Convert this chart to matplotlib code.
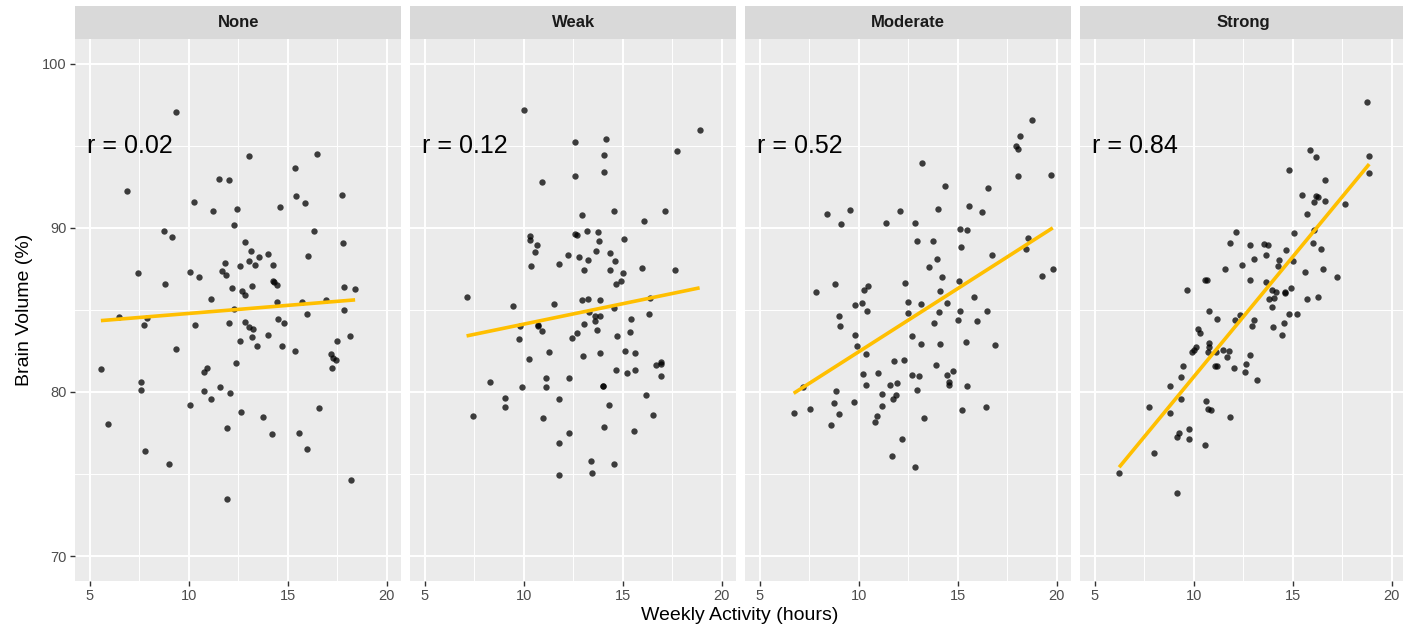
import numpy as np
import matplotlib
matplotlib.use("Agg")
import matplotlib.pyplot as plt
from matplotlib.ticker import MultipleLocator

plt.rcParams['font.family'] = ['Liberation Sans', 'DejaVu Sans']

# facettes : niveau de corrélation
panels = ["None", "Weak", "Moderate", "Strong"]
r_labels = ["r = 0.02", "r = 0.12", "r = 0.52", "r = 0.84"]

none_x = [9.36, 6.86, 13.07, 16.47, 15.35, 11.55, 12.04, 10.29, 11.25, 12.42,
          14.59, 15.42, 15.88, 17.74, 12.31, 8.77, 9.14, 16.35, 17.82, 12.84,
          13.14, 13.56, 14.00, 16.05, 11.82, 13.04, 13.33, 12.60, 14.27, 7.42,
          10.05, 11.66, 11.88, 10.51, 8.78, 14.26, 14.31, 14.46, 12.18, 13.18,
          12.70, 12.85, 17.85, 18.41, 11.15, 14.44, 15.71, 16.96, 12.31, 17.87,
          6.45, 7.87, 7.74, 10.32, 12.01, 12.82, 13.06, 13.26, 14.49, 14.81,
          15.96, 12.57, 13.21, 14.00, 13.45, 14.70, 15.37, 9.36, 17.48, 18.16,
          17.21, 17.31, 17.43, 17.25, 5.56, 12.38, 10.90, 10.79, 7.57, 7.58,
          10.78, 11.57, 12.08, 11.10, 10.05, 12.64, 16.59, 13.75, 5.90, 11.94,
          14.22, 15.57, 15.98, 7.80, 9.00, 18.19, 11.91]
none_y = [97.08, 92.21, 94.39, 94.47, 93.65, 93.00, 92.94, 91.59, 91.02, 91.16,
          91.26, 91.93, 91.53, 91.97, 90.15, 89.79, 89.46, 89.81, 89.10, 89.14,
          88.56, 88.23, 88.41, 88.27, 87.87, 87.99, 87.71, 87.69, 87.73, 87.26,
          87.32, 87.38, 87.10, 86.98, 86.56, 86.76, 86.72, 86.52, 86.31, 86.43,
          86.15, 85.89, 86.37, 86.29, 85.65, 85.48, 85.48, 85.61, 85.08, 85.02,
          84.55, 84.51, 84.05, 84.09, 84.21, 84.25, 83.95, 83.84, 84.45, 84.17,
          84.76, 83.09, 83.34, 83.46, 82.77, 82.77, 82.48, 82.61, 83.13, 83.38,
          82.34, 82.08, 81.94, 81.45, 81.41, 81.75, 81.43, 81.23, 80.60, 80.09,
          80.07, 80.29, 79.91, 79.58, 79.20, 78.79, 79.00, 78.45, 78.02, 77.78,
          77.41, 77.49, 76.54, 76.40, 75.59, 74.63, 73.50]

weak_x = [10.00, 18.89, 12.57, 14.14, 14.04, 17.77, 12.57, 14.04, 10.93, 14.58,
          17.13, 12.92, 16.10, 13.19, 13.75, 12.60, 12.67, 10.34, 10.30, 13.82,
          15.08, 10.68, 10.59, 13.63, 14.34, 12.26, 12.79, 13.24, 14.63, 11.77,
          10.39, 13.06, 14.38, 16.00, 17.65, 15.00, 14.93, 14.66, 7.11, 9.48,
          11.55, 12.96, 13.23, 13.87, 16.39, 14.58,
          13.31, 13.58, 13.87, 13.58, 15.42, 16.35, 10.71, 10.71, 9.80, 13.06,
          10.90, 12.67, 13.72, 15.39, 9.76, 12.45, 14.70, 11.30, 13.01, 13.87,
          15.10, 15.64, 10.29, 16.96, 16.96, 16.67, 14.66, 15.22, 15.64, 16.96,
          8.31, 11.13, 12.31, 9.92, 11.15, 13.99, 14.02, 9.07, 9.07, 11.76,
          16.20, 14.32, 7.43, 10.98, 16.55, 14.07, 12.30, 15.59, 11.76, 13.38,
          14.56, 11.76, 13.43]
weak_y = [97.18, 95.97, 95.24, 95.42, 94.43, 94.66, 93.18, 93.42, 92.80, 91.04,
          91.04, 90.80, 90.41, 89.83, 89.75, 89.61, 89.57, 89.50, 89.26, 89.20,
          89.34, 88.94, 88.52, 88.60, 88.45, 88.37, 88.21, 88.05, 87.95, 87.81,
          87.69, 87.40, 87.44, 87.55, 87.40, 87.24, 86.74, 86.56, 85.79, 85.24,
          85.34, 85.63, 85.67, 85.63, 85.73, 85.14,
          84.84, 84.61, 84.61, 84.31, 84.45, 84.76, 84.07, 84.02, 84.02, 84.13,
          83.74, 83.62, 83.76, 83.66, 83.23, 83.29, 83.43, 82.42, 82.17, 82.38,
          82.52, 82.38, 82.01, 81.81, 81.71, 81.63, 81.32, 81.16, 81.36, 81.00,
          80.59, 80.83, 80.83, 80.28, 80.33, 80.39, 80.39, 79.61, 79.11, 79.57,
          79.80, 79.19, 78.52, 78.41, 78.60, 77.89, 77.50, 77.60, 76.91, 75.77,
          75.61, 74.94, 75.04]

moderate_x = [18.77, 18.16, 17.96, 18.06, 13.18, 18.07, 19.71, 14.38, 16.54, 8.38,
              9.58, 9.10, 12.11, 14.02, 15.59, 16.22, 11.39, 12.85, 15.12, 15.47,
              12.97, 13.77, 15.15, 18.55, 18.43, 16.76, 13.95, 13.56, 14.19, 19.81,
              19.27, 7.84, 8.80, 10.25, 10.49, 12.36, 15.05, 14.09, 9.80, 10.17,
              12.47, 13.16, 14.48, 15.84,
              10.44, 12.48, 14.04, 15.10, 16.47, 9.00, 9.07, 13.80, 15.00, 15.96,
              9.80, 12.67, 9.93, 13.13, 14.09, 15.41, 16.89, 10.35, 11.76, 12.30,
              13.90, 10.22, 10.95, 12.69, 13.04, 14.46, 14.78, 14.54, 14.54, 15.47,
              7.16, 10.39, 11.57, 11.93, 12.94, 8.85, 11.18, 11.89, 11.72, 8.75,
              9.75, 11.17, 6.71, 7.52, 9.00, 15.20, 16.44, 10.90, 10.84, 13.28,
              8.61, 12.18, 11.69, 12.82]
moderate_y = [96.58, 95.59, 95.00, 94.78, 93.97, 93.18, 93.22, 92.54, 92.43, 90.86,
              91.06, 90.21, 91.04, 91.16, 91.32, 90.98, 90.31, 90.27, 89.95, 89.85,
              89.20, 89.20, 88.82, 89.40, 88.70, 88.33, 88.11, 87.63, 87.00, 87.50,
              87.04, 86.09, 86.58, 86.21, 86.43, 86.62, 86.78, 86.15, 85.28, 85.44,
              85.48, 85.34, 85.44, 85.79,
              84.96, 84.82, 84.84, 84.92, 84.94, 84.61, 84.03, 84.17, 84.37, 84.33,
              83.48, 83.40, 82.79, 82.91, 82.93, 83.05, 82.87, 82.28, 81.88, 81.94,
              81.66, 81.08, 81.18, 81.04, 80.94, 81.02, 81.26, 80.59, 80.45, 80.37,
              80.28, 80.45, 80.45, 80.53, 80.12, 80.06, 79.88, 79.80, 79.59, 79.33,
              79.39, 79.15, 78.74, 78.98, 78.68, 78.88, 79.07, 78.54, 78.17, 78.43,
              77.99, 77.11, 76.10, 75.43]

strong_x = [18.75, 18.87, 18.87, 15.90, 16.17, 14.81, 16.62, 15.47, 16.17, 16.30,
            16.10, 16.62, 17.67, 15.71, 16.06, 15.05, 12.15, 11.81, 12.82, 13.56,
            13.73, 16.01, 16.45, 14.65, 13.65, 13.06, 14.29, 15.03, 12.43, 14.27,
            11.57, 15.61, 16.52, 17.26, 10.56, 10.68, 12.85, 13.65, 9.68, 13.95,
            14.16, 14.61, 14.63, 14.90, 13.78, 14.05, 15.74, 16.30, 13.97,
            10.76, 11.17, 12.11, 12.36, 13.04, 12.97, 14.81, 15.22, 14.00, 14.58,
            14.44, 10.22, 10.30, 10.10, 10.02, 9.90, 10.76, 10.76, 10.74, 11.15,
            11.49, 11.78, 11.69, 12.84, 12.64, 12.58, 13.18, 12.03, 11.08, 11.17,
            9.44, 9.34, 8.78, 9.34, 10.63, 10.73, 10.88, 7.72, 8.82, 11.81,
            9.78, 9.78, 9.26, 9.14, 10.56, 7.99, 6.23, 9.17]
strong_y = [97.67, 94.39, 93.34, 94.76, 94.29, 93.53, 92.90, 91.97, 91.93, 91.89,
            91.55, 91.65, 91.46, 90.86, 89.87, 89.67, 89.75, 89.08, 88.94, 89.02,
            88.98, 89.06, 88.72, 88.62, 88.33, 88.07, 88.05, 87.99, 87.71, 87.67,
            87.48, 87.28, 87.46, 87.00, 86.82, 86.82, 86.84, 86.72, 86.23, 86.23,
            86.09, 86.09, 86.03, 86.35, 85.65, 85.71, 85.65, 85.79, 85.16,
            84.94, 84.47, 84.41, 84.70, 84.41, 84.02, 84.76, 84.76, 83.98, 84.17,
            83.48, 83.86, 83.60, 82.72, 82.58, 82.46, 82.97, 82.72, 82.44, 82.44,
            82.58, 82.48, 82.11, 82.24, 81.73, 81.24, 80.75, 81.48, 81.57, 81.59,
            81.57, 80.91, 80.39, 79.57, 79.47, 78.94, 78.92, 79.07, 78.70, 78.48,
            77.76, 77.13, 77.52, 77.28, 76.75, 76.28, 75.04, 73.86]

xs = [none_x, weak_x, moderate_x, strong_x]
ys = [none_y, weak_y, moderate_y, strong_y]

W, H = 1403, 632
fig = plt.figure(figsize=(W / 100, H / 100), dpi=100)
fig.patch.set_facecolor("white")

lefts = [75, 410, 745, 1080]
pw = 326.4
p_top, p_bot = 39, 580.7
s_top = 6

for i, name in enumerate(panels):
    left = lefts[i] / W
    ax = fig.add_axes([left, (H - p_bot) / H, pw / W, (p_bot - p_top) / H])
    ax.set_facecolor("#EBEBEB")
    for sp in ax.spines.values():
        sp.set_visible(False)

    ax.set_xlim(4.25, 20.75)
    ax.set_ylim(68.5, 101.5)
    ax.xaxis.set_major_locator(MultipleLocator(5))
    ax.xaxis.set_minor_locator(MultipleLocator(2.5))
    ax.yaxis.set_major_locator(MultipleLocator(10))
    ax.yaxis.set_minor_locator(MultipleLocator(5))
    ax.grid(which="major", color="white", linewidth=1.4)
    ax.grid(which="minor", color="white", linewidth=0.7)
    ax.set_axisbelow(True)
    ax.tick_params(which="minor", length=0)
    ax.tick_params(which="major", length=3.5, width=1.0, color="#333333",
                   labelsize=10.5, labelcolor="#4D4D4D", pad=2.5)
    if i > 0:
        ax.tick_params(axis="y", which="major", left=False, labelleft=False)

    x = np.array(xs[i])
    y = np.array(ys[i])
    ax.scatter(x, y, s=21, color="black", alpha=0.75, linewidths=0, zorder=3)

    # droite de régression (lm) sur l'étendue des données
    slope, icpt = np.polyfit(x, y, 1)
    xx = np.array([x.min(), x.max()])
    ax.plot(xx, icpt + slope * xx, color="#FFBF00", linewidth=2.6, zorder=4,
            solid_capstyle="butt")

    ax.text(4.85, 95, r_labels[i], fontsize=18, ha="left", va="center",
            color="black", zorder=5)

    # bandeau de facette
    sax = fig.add_axes([left, (H - p_top) / H, pw / W, (p_top - s_top) / H])
    sax.set_facecolor("#D9D9D9")
    sax.set_xticks([])
    sax.set_yticks([])
    for sp in sax.spines.values():
        sp.set_visible(False)
    sax.text(0.5, 0.5, name, ha="center", va="center", fontsize=12,
             fontweight="bold", color="#1A1A1A", transform=sax.transAxes)

fig.text(740 / W, 1 - 616 / H, "Weekly Activity (hours)", ha="center",
         va="center", fontsize=14, color="black")
fig.text(25 / W, 1 - 310 / H, "Brain Volume (%)", ha="center", va="center",
         rotation=90, fontsize=14, color="black")

fig.savefig("out.png", dpi=100)
